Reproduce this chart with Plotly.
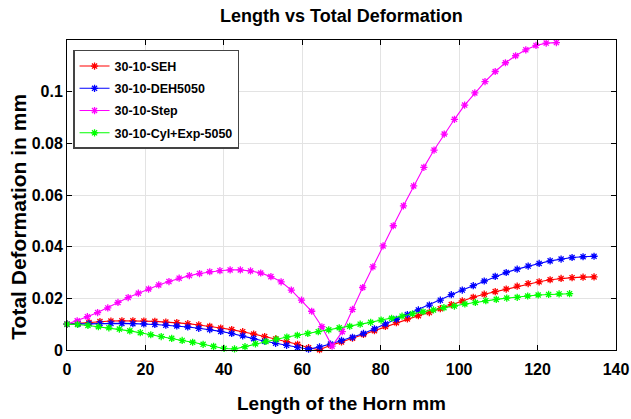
import plotly.graph_objects as go

# ---------------- data ----------------
x_seh = [0.0, 2.8, 5.6, 8.4, 11.2, 14.0, 16.8, 19.6, 22.4, 25.2, 28.0, 30.8, 33.6, 36.4, 39.2,
         42.0, 44.8, 47.6, 50.4, 53.2, 56.0, 58.8, 61.6, 64.4, 67.2, 70.0, 72.8, 75.6, 78.4,
         81.2, 84.0, 86.8, 89.6, 92.4, 95.2, 98.0, 100.8, 103.6, 106.4, 109.2, 112.0, 114.8,
         117.6, 120.4, 123.2, 126.0, 128.8, 131.6, 134.4]
y_seh = [0.0100, 0.0103, 0.0106, 0.0110, 0.0112, 0.0113, 0.0113, 0.0112, 0.0111, 0.0108,
         0.0106, 0.0102, 0.0097, 0.0092, 0.0085, 0.0079, 0.0071, 0.0062, 0.0052, 0.0043,
         0.0032, 0.0022, 0.0009, 0.0001, 0.0018, 0.0031, 0.0046, 0.0060, 0.0075, 0.0091,
         0.0106, 0.0120, 0.0133, 0.0145, 0.0160, 0.0176, 0.0190, 0.0204, 0.0216, 0.0226,
         0.0236, 0.0247, 0.0257, 0.0264, 0.0272, 0.0277, 0.0280, 0.0282, 0.0283]

x_deh = list(x_seh)
y_deh = [0.0100, 0.0101, 0.0102, 0.0103, 0.0103, 0.0103, 0.0102, 0.0101, 0.0099, 0.0096,
         0.0093, 0.0089, 0.0084, 0.0079, 0.0072, 0.0064, 0.0055, 0.0044, 0.0034, 0.0026,
         0.0018, 0.0010, 0.0003, 0.0012, 0.0023, 0.0037, 0.0049, 0.0064, 0.0082, 0.0101,
         0.0119, 0.0137, 0.0155, 0.0174, 0.0193, 0.0214, 0.0232, 0.0249, 0.0267, 0.0285,
         0.0300, 0.0313, 0.0325, 0.0335, 0.0345, 0.0352, 0.0358, 0.0361, 0.0363]

x_step = [0.0, 2.6, 5.2, 7.8, 10.4, 13.0, 15.6, 18.2, 20.8, 23.4, 26.0, 28.6, 31.2, 33.8, 36.4,
          39.0, 41.6, 44.2, 46.8, 49.4, 52.0, 54.6, 57.2, 59.8, 62.4, 65.0, 67.6, 70.2, 72.8,
          75.4, 78.0, 80.6, 83.2, 85.8, 88.4, 91.0, 93.6, 96.2, 98.8, 101.4, 104.0, 106.6,
          109.2, 111.8, 114.4, 117.0, 119.6, 122.2, 124.8]
y_step = [0.0100, 0.0113, 0.0129, 0.0145, 0.0163, 0.0184, 0.0203, 0.0220, 0.0236, 0.0252,
          0.0265, 0.0278, 0.0288, 0.0296, 0.0303, 0.0307, 0.0310, 0.0310, 0.0306, 0.0298,
          0.0284, 0.0264, 0.0232, 0.0193, 0.0150, 0.0090, 0.0015, 0.0071, 0.0157, 0.0242,
          0.0322, 0.0403, 0.0481, 0.0558, 0.0635, 0.0707, 0.0774, 0.0836, 0.0893, 0.0948,
          0.0995, 0.1039, 0.1078, 0.1112, 0.1139, 0.1162, 0.1179, 0.1188, 0.1190]

x_cyl = [0.0, 2.67, 5.34, 8.01, 10.68, 13.35, 16.02, 18.69, 21.36, 24.03, 26.7, 29.37, 32.04,
         34.71, 37.38, 40.05, 42.72, 45.39, 48.06, 50.73, 53.4, 56.07, 58.74, 61.41, 64.08,
         66.75, 69.42, 72.09, 74.76, 77.43, 80.1, 82.77, 85.44, 88.11, 90.78, 93.45, 96.12,
         98.79, 101.46, 104.13, 106.8, 109.47, 112.14, 114.81, 117.48, 120.15, 122.82,
         125.49, 128.16]
y_cyl = [0.0100, 0.0099, 0.0095, 0.0090, 0.0086, 0.0081, 0.0074, 0.0067, 0.0059, 0.0052,
         0.0045, 0.0037, 0.0030, 0.0022, 0.0014, 0.0006, 0.0004, 0.0013, 0.0024, 0.0033,
         0.0042, 0.0050, 0.0057, 0.0064, 0.0071, 0.0078, 0.0086, 0.0092, 0.0100, 0.0107,
         0.0116, 0.0123, 0.0131, 0.0140, 0.0148, 0.0155, 0.0164, 0.0170, 0.0178, 0.0184,
         0.0191, 0.0196, 0.0201, 0.0204, 0.0209, 0.0213, 0.0215, 0.0217, 0.0218]

series_names = ["30-10-SEH", "30-10-DEH5050", "30-10-Step", "30-10-Cyl+Exp-5050"]
series_colors = ["#ff0000", "#0000ff", "#ff00ff", "#00ff00"]
x_ticks = [0, 20, 40, 60, 80, 100, 120, 140]
y_ticks = [0, 0.02, 0.04, 0.06, 0.08, 0.1]

FONT = "Liberation Sans, Arial, sans-serif"

fig = go.Figure()
for i, (xs, ys, name, col) in enumerate(zip([x_seh, x_deh, x_step, x_cyl],
                                            [y_seh, y_deh, y_step, y_cyl],
                                            series_names, series_colors)):
    fig.add_trace(go.Scatter(
        x=xs, y=ys, name=name, mode="lines+markers", legendgroup=f"g{i}",
        line=dict(color=col, width=1.1),
        marker=dict(symbol="asterisk-open", size=6, color=col,
                    line=dict(color=col, width=1.3)),
        cliponaxis=False,
    ))

axis_common = dict(
    showline=True, linecolor="black", linewidth=1, mirror="ticks",
    ticks="inside", ticklen=5, tickcolor="black", tickwidth=1,
    showgrid=True, gridcolor="#e3e3e3", gridwidth=1, zeroline=False,
    automargin=False,
    tickfont=dict(family=FONT, size=16, color="black", weight="bold"),
)

fig.update_layout(
    width=631, height=419,
    margin=dict(l=67, r=15, t=40, b=69),
    paper_bgcolor="white", plot_bgcolor="white",
    title=dict(text="Length vs Total Deformation", x=0.541, xanchor="center",
               y=0.962, yanchor="middle",
               font=dict(family=FONT, size=18, color="black", weight="bold")),
    xaxis=dict(range=[0, 140], tickvals=x_ticks, ticklabelstandoff=5, **axis_common),
    yaxis=dict(range=[0, 0.12], tickvals=y_ticks, **axis_common),
    annotations=[
        dict(text="Length of the Horn mm", xref="paper", yref="paper",
             x=0.5, y=-0.171, xanchor="center", yanchor="middle", showarrow=False,
             font=dict(family=FONT, size=19, color="black", weight="bold")),
        dict(text="Total Deformation in mm", xref="paper", yref="paper",
             x=-0.0875, y=0.43, xanchor="center", yanchor="middle", showarrow=False,
             textangle=-90,
             font=dict(family=FONT, size=21, color="black", weight="bold")),
    ],
    legend=dict(x=0.011, y=0.968, xanchor="left", yanchor="top",
                bgcolor="white", bordercolor="#444444", borderwidth=1.5,
                font=dict(family=FONT, size=12.5, color="black", weight="bold"),
                itemwidth=30, tracegroupgap=3),
    showlegend=True,
)

fig.write_html("out.html")
